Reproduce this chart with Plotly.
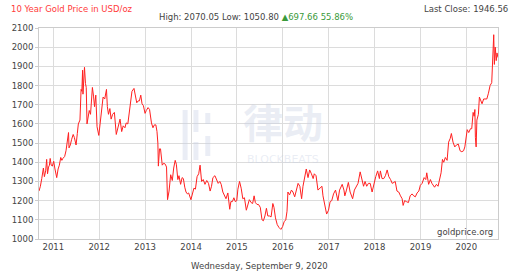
import plotly.graph_objects as go

dates = [
 "2010-09-09","2010-09-20","2010-10-01","2010-10-14","2010-10-22","2010-11-01","2010-11-09","2010-11-16","2010-11-24","2010-12-01","2010-12-07","2010-12-15","2010-12-24",
 "2011-01-04","2011-01-14","2011-01-28","2011-02-08","2011-02-18","2011-03-01","2011-03-10","2011-03-18","2011-04-01","2011-04-12","2011-04-20","2011-05-02","2011-05-06","2011-05-16","2011-05-27","2011-06-08","2011-06-17","2011-07-01","2011-07-11","2011-07-19","2011-08-01","2011-08-10","2011-08-16","2011-08-22","2011-08-25","2011-09-01","2011-09-06","2011-09-14","2011-09-20","2011-09-26","2011-10-04","2011-10-14","2011-10-24","2011-11-01","2011-11-08","2011-11-17","2011-11-25","2011-12-05","2011-12-15","2011-12-29",
 "2012-01-09","2012-01-20","2012-02-01","2012-02-14","2012-02-28","2012-03-06","2012-03-15","2012-03-26","2012-04-05","2012-04-17","2012-05-01","2012-05-16","2012-05-25","2012-06-05","2012-06-15","2012-06-28","2012-07-10","2012-07-24","2012-08-03","2012-08-16","2012-08-28","2012-09-07","2012-09-18","2012-10-04","2012-10-16","2012-10-26","2012-11-06","2012-11-16","2012-11-27","2012-12-07","2012-12-18","2012-12-31",
 "2013-01-10","2013-01-24","2013-02-05","2013-02-20","2013-03-04","2013-03-15","2013-03-27","2013-04-05","2013-04-12","2013-04-16","2013-04-25","2013-05-03","2013-05-17","2013-05-29","2013-06-10","2013-06-20","2013-06-28","2013-07-10","2013-07-23","2013-08-05","2013-08-16","2013-08-28","2013-09-06","2013-09-18","2013-09-27","2013-10-10","2013-10-22","2013-11-01","2013-11-12","2013-11-22","2013-12-03","2013-12-13","2013-12-31",
 "2014-01-10","2014-01-24","2014-02-05","2014-02-18","2014-03-03","2014-03-14","2014-03-26","2014-04-08","2014-04-22","2014-05-06","2014-05-20","2014-06-02","2014-06-13","2014-06-24","2014-07-10","2014-07-22","2014-08-05","2014-08-18","2014-08-29","2014-09-11","2014-09-25","2014-10-06","2014-10-21","2014-11-05","2014-11-14","2014-11-26","2014-12-08","2014-12-19","2014-12-31",
 "2015-01-09","2015-01-22","2015-02-04","2015-02-17","2015-03-02","2015-03-17","2015-03-31","2015-04-10","2015-04-24","2015-05-06","2015-05-18","2015-05-28","2015-06-10","2015-06-22","2015-07-06","2015-07-20","2015-07-31","2015-08-12","2015-08-24","2015-09-04","2015-09-17","2015-09-30","2015-10-14","2015-10-23","2015-11-04","2015-11-18","2015-12-02","2015-12-17","2015-12-31",
 "2016-01-12","2016-01-25","2016-02-04","2016-02-11","2016-02-24","2016-03-10","2016-03-22","2016-04-05","2016-04-20","2016-05-02","2016-05-16","2016-05-30","2016-06-10","2016-06-24","2016-07-06","2016-07-20","2016-08-02","2016-08-16","2016-08-30","2016-09-08","2016-09-22","2016-10-07","2016-10-20","2016-11-08","2016-11-16","2016-11-30","2016-12-15","2016-12-30",
 "2017-01-12","2017-01-25","2017-02-08","2017-02-24","2017-03-06","2017-03-15","2017-03-28","2017-04-10","2017-04-18","2017-05-02","2017-05-09","2017-05-22","2017-06-06","2017-06-20","2017-07-03","2017-07-10","2017-07-24","2017-08-08","2017-08-22","2017-09-08","2017-09-20","2017-10-05","2017-10-17","2017-10-30","2017-11-13","2017-11-27","2017-12-12","2017-12-29",
 "2018-01-10","2018-01-25","2018-02-08","2018-02-16","2018-03-01","2018-03-15","2018-03-28","2018-04-11","2018-04-24","2018-05-08","2018-05-21","2018-06-04","2018-06-14","2018-06-28","2018-07-12","2018-07-26","2018-08-08","2018-08-16","2018-08-28","2018-09-11","2018-09-27","2018-10-11","2018-10-26","2018-11-08","2018-11-21","2018-12-05","2018-12-19","2018-12-31",
 "2019-01-14","2019-01-30","2019-02-12","2019-02-20","2019-03-07","2019-03-21","2019-04-02","2019-04-23","2019-05-08","2019-05-21","2019-06-03","2019-06-14","2019-06-25","2019-07-05","2019-07-18","2019-08-01","2019-08-13","2019-08-26","2019-09-04","2019-09-17","2019-10-01","2019-10-14","2019-10-29","2019-11-12","2019-11-26","2019-12-10","2019-12-20","2019-12-31",
 "2020-01-08","2020-01-20","2020-02-03","2020-02-13","2020-02-24","2020-03-03","2020-03-09","2020-03-13","2020-03-19","2020-03-25","2020-04-06","2020-04-14","2020-04-23","2020-05-05","2020-05-18","2020-06-01","2020-06-12","2020-06-25","2020-07-08","2020-07-21","2020-07-27","2020-08-06","2020-08-11","2020-08-18","2020-08-26","2020-09-01","2020-09-09",
]

prices = [
 1250,1275,1315,1370,1325,1355,1415,1340,1375,1385,1420,1385,1380,
 1405,1365,1320,1365,1385,1425,1410,1420,1430,1460,1500,1555,1475,1490,1520,1545,1530,1490,1550,1600,1620,1780,1770,1880,1755,1830,1895,1810,1790,1600,1640,1670,1650,1720,1790,1745,1690,1750,1585,1540,
 1600,1660,1740,1730,1780,1690,1650,1680,1625,1650,1660,1545,1575,1610,1625,1560,1590,1580,1605,1600,1670,1700,1770,1785,1750,1710,1720,1720,1750,1705,1695,1655,
 1670,1685,1675,1605,1580,1595,1595,1560,1500,1380,1470,1470,1385,1395,1390,1375,1205,1250,1335,1305,1370,1410,1390,1310,1330,1285,1320,1315,1270,1245,1235,1240,1205,
 1235,1265,1260,1325,1340,1385,1300,1310,1285,1305,1290,1250,1275,1320,1330,1310,1290,1300,1285,1245,1220,1210,1240,1155,1195,1195,1215,1195,1200,
 1260,1300,1265,1210,1215,1150,1185,1205,1190,1185,1225,1190,1180,1180,1165,1100,1095,1120,1160,1120,1120,1115,1185,1165,1110,1075,1060,1050,1065,
 1090,1100,1145,1245,1230,1255,1245,1220,1255,1290,1275,1210,1275,1320,1365,1320,1360,1340,1315,1340,1330,1255,1265,1275,1225,1175,1130,1150,
 1195,1200,1235,1255,1225,1200,1255,1270,1285,1255,1225,1255,1295,1245,1225,1210,1255,1270,1290,1350,1315,1275,1300,1275,1290,1290,1245,1300,
 1325,1355,1315,1355,1315,1315,1330,1360,1325,1310,1290,1295,1300,1250,1245,1225,1210,1175,1200,1195,1190,1225,1235,1225,1220,1240,1250,1280,
 1290,1320,1310,1345,1285,1310,1290,1270,1285,1275,1325,1345,1415,1400,1425,1410,1505,1525,1550,1505,1480,1490,1495,1460,1455,1460,1480,1520,
 1570,1555,1575,1575,1660,1640,1675,1530,1480,1620,1650,1740,1720,1705,1730,1730,1730,1760,1800,1815,1940,2065,1910,2000,1930,1970,1946,
]

W, H = 512, 272
L, R, T, B = 33, 14, 28, 33
PW, PH = W - L - R, H - T - B


def px(x):
    return (x - L) / PW


def py(y):
    return (H - B - y) / PH


fig = go.Figure()
fig.add_trace(go.Scatter(x=dates, y=prices, mode="lines",
                         line=dict(color="#ff2020", width=1), hoverinfo="skip"))

font = "DejaVu Sans"
grid = "#dcdcdc"
wm = "rgba(200,208,228,0.38)"

# watermark icon (vertical bars)
icon_segments = [
    (181, 110, 160), (192, 110, 132), (192, 142, 160),
    (204, 113, 124), (204, 136, 156),
]
shapes = []
for (xx, y0, y1) in icon_segments:
    shapes.append(dict(type="line", xref="paper", yref="paper",
                       x0=px(xx), x1=px(xx), y0=py(y0), y1=py(y1),
                       line=dict(color=wm, width=5), layer="above"))

fig.update_layout(
    width=W, height=H,
    margin=dict(l=L, r=R, t=T, b=B),
    paper_bgcolor="white", plot_bgcolor="white",
    showlegend=False,
    font=dict(family=font, size=8, color="#444444"),
    xaxis=dict(range=["2010-09-09", "2020-09-09"], type="date",
               tickvals=[f"{y}-01-01" for y in range(2011, 2021)],
               ticktext=[str(y) for y in range(2011, 2021)],
               showgrid=True, gridcolor=grid, gridwidth=1,
               showline=True, linecolor="#cccccc", mirror=True,
               ticks="", ticklen=0, tickfont=dict(size=8.5, color="#444444"),
               zeroline=False),
    yaxis=dict(range=[1000, 2100], tickvals=list(range(1000, 2101, 100)),
               showgrid=True, gridcolor=grid, gridwidth=1,
               showline=True, linecolor="#cccccc", mirror=True,
               ticks="outside", ticklen=3, tickcolor="#cccccc",
               tickfont=dict(size=8.5, color="#444444"), zeroline=False),
    shapes=shapes,
    annotations=[
        dict(text="10 Year Gold Price in USD/oz", xref="paper", yref="paper",
             x=px(3), y=py(9), xanchor="left", yanchor="middle", showarrow=False,
             font=dict(size=8.5, color="#ff3b3b", family=font)),
        dict(text="Last Close: 1946.56", xref="paper", yref="paper",
             x=px(510), y=py(9), xanchor="right", yanchor="middle", showarrow=False,
             font=dict(size=8.5, color="#444444", family=font)),
        dict(text="High: 2070.05 Low: 1050.80 <span style='color:#3a9a3a'>▲697.66 55.86%</span>",
             xref="paper", yref="paper", x=px(253), y=py(17),
             xanchor="center", yanchor="middle", showarrow=False,
             font=dict(size=8.5, color="#444444", family=font)),
        dict(text="Wednesday, September 9, 2020", xref="paper", yref="paper",
             x=px(256), y=py(266), xanchor="center", yanchor="middle",
             showarrow=False, font=dict(size=8.5, color="#444444", family=font)),
        dict(text="goldprice.org", xref="paper", yref="paper",
             x=px(495), y=py(232), xanchor="right", yanchor="middle", showarrow=False,
             font=dict(size=8.5, color="#444444", family=font)),
        dict(text="律动", xref="paper", yref="paper",
             x=px(280), y=py(121), xanchor="center", yanchor="middle",
             showarrow=False, font=dict(size=40, color=wm, weight="bold",
                                         family="Noto Sans CJK SC")),
        dict(text="BLOCKBEATS", xref="paper", yref="paper",
             x=px(280), y=py(159), xanchor="center", yanchor="middle",
             showarrow=False, font=dict(size=11, color=wm, family=font)),
    ],
)

fig.write_html("out.html")
